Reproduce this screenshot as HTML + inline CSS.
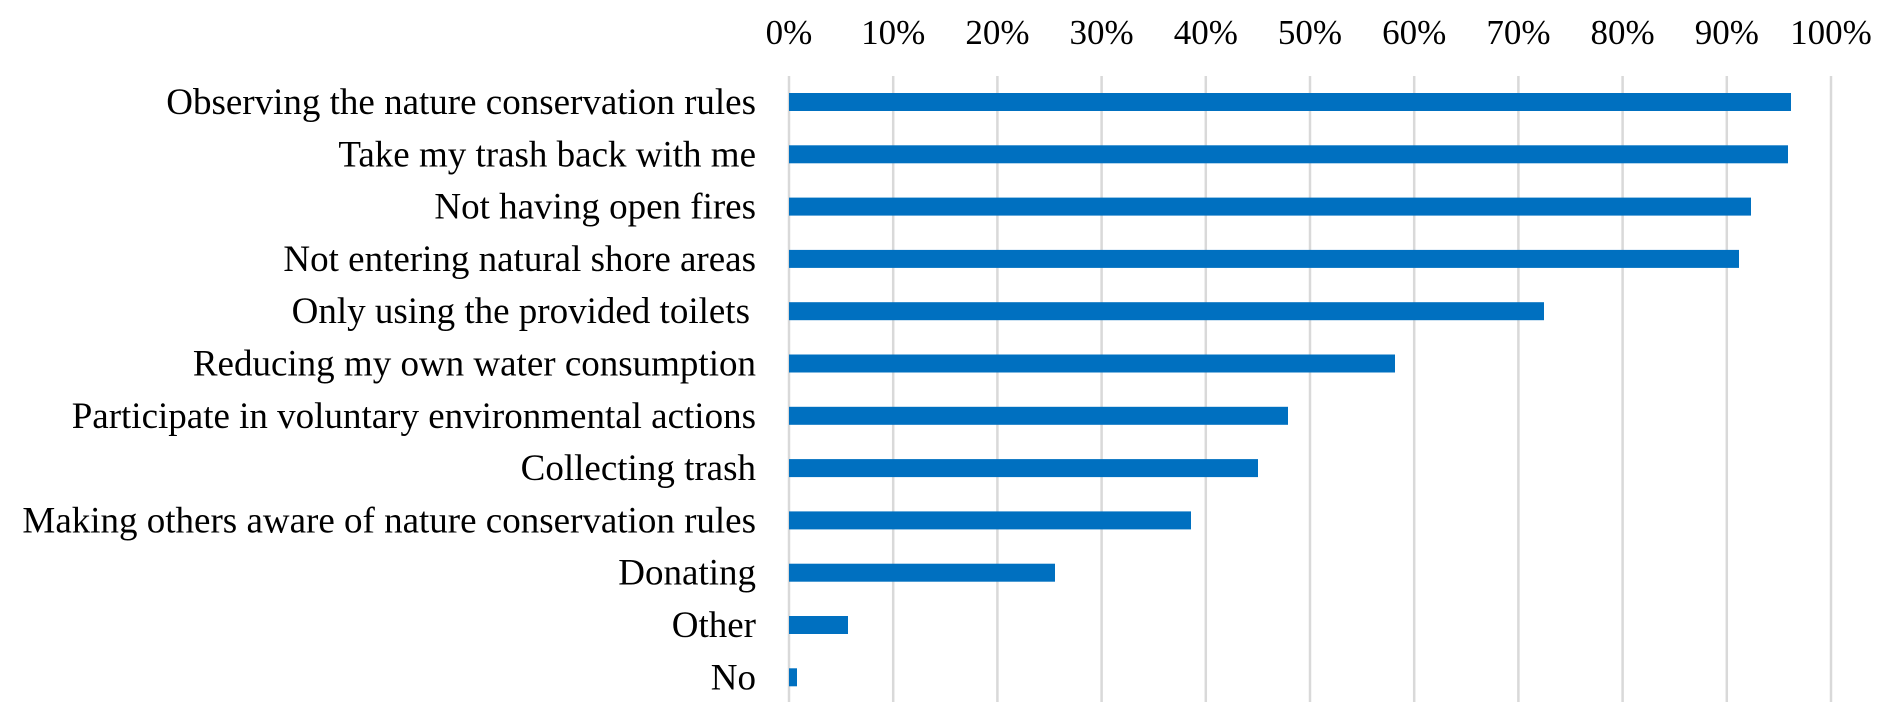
<!DOCTYPE html>
<html><head><meta charset="utf-8"><style>html,body{margin:0;padding:0;background:#fff}svg{display:block}</style></head><body>
<svg width="1892" height="723" xmlns="http://www.w3.org/2000/svg" font-family="'Liberation Serif', serif" font-size="35" fill="#000">
<g stroke="#d9d9d9" stroke-width="2.5">
<line x1="789" y1="76" x2="789" y2="702"/><line x1="893.2" y1="76" x2="893.2" y2="702"/><line x1="997.4" y1="76" x2="997.4" y2="702"/><line x1="1101.6" y1="76" x2="1101.6" y2="702"/><line x1="1205.8" y1="76" x2="1205.8" y2="702"/><line x1="1310" y1="76" x2="1310" y2="702"/><line x1="1414.2" y1="76" x2="1414.2" y2="702"/><line x1="1518.4" y1="76" x2="1518.4" y2="702"/><line x1="1622.6" y1="76" x2="1622.6" y2="702"/><line x1="1726.8" y1="76" x2="1726.8" y2="702"/><line x1="1831" y1="76" x2="1831" y2="702"/>
</g>
<g text-anchor="middle">
<text x="789" y="44">0%</text><text x="893.2" y="44">10%</text><text x="997.4" y="44">20%</text><text x="1101.6" y="44">30%</text><text x="1205.8" y="44">40%</text><text x="1310" y="44">50%</text><text x="1414.2" y="44">60%</text><text x="1518.4" y="44">70%</text><text x="1622.6" y="44">80%</text><text x="1726.8" y="44">90%</text><text x="1831" y="44">100%</text>
</g>
<g fill="#0070C0">
<rect x="789" y="93" width="1002" height="18"/>
<rect x="789" y="145.3" width="999" height="18"/>
<rect x="789" y="197.6" width="962" height="18"/>
<rect x="789" y="249.9" width="950" height="18"/>
<rect x="789" y="302.2" width="755" height="18"/>
<rect x="789" y="354.5" width="606" height="18"/>
<rect x="789" y="406.8" width="499" height="18"/>
<rect x="789" y="459.1" width="469" height="18"/>
<rect x="789" y="511.4" width="402" height="18"/>
<rect x="789" y="563.7" width="266" height="18"/>
<rect x="789" y="616" width="59" height="18"/>
<rect x="789" y="668.3" width="8" height="18"/>
</g>
<g text-anchor="end" font-size="37">
<text x="756" y="114">Observing the nature conservation rules</text>
<text x="756" y="166.3">Take my trash back with me</text>
<text x="756" y="218.6">Not having open fires</text>
<text x="756" y="270.9">Not entering natural shore areas</text>
<text x="750" y="323.2">Only using the provided toilets</text>
<text x="756" y="375.5">Reducing my own water consumption</text>
<text x="756" y="427.8">Participate in voluntary environmental actions</text>
<text x="756" y="480.1">Collecting trash</text>
<text x="756" y="532.4">Making others aware of nature conservation rules</text>
<text x="756" y="584.7">Donating</text>
<text x="756" y="637">Other</text>
<text x="756" y="689.3">No</text>
</g>
</svg>
</body></html>
